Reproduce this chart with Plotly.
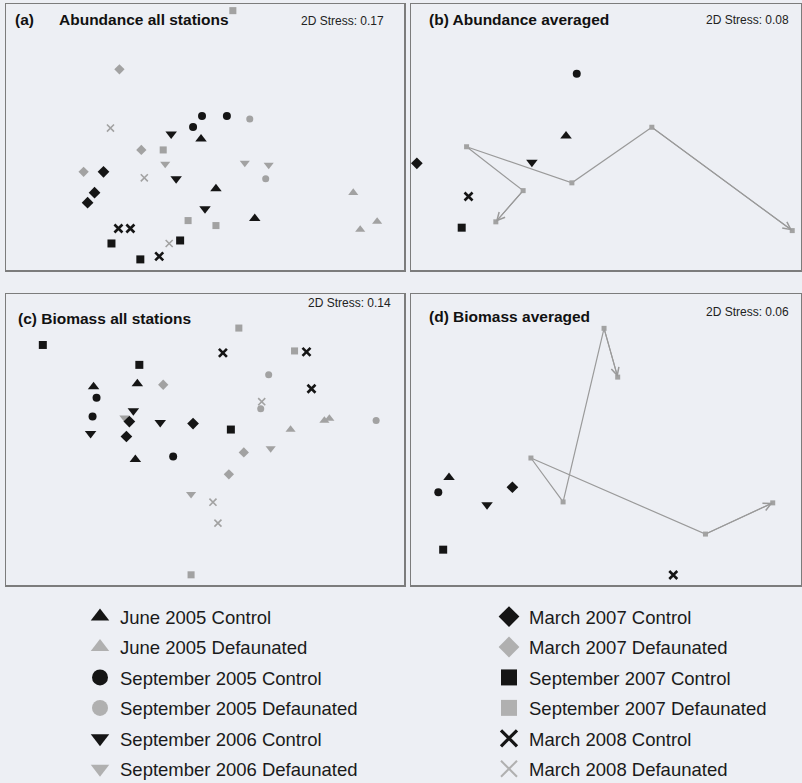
import plotly.graph_objects as go

W, H = 802, 783

# ---- groups -------------------------------------------------------------
group_codes = ["J05C", "J05D", "S05C", "S05D", "S06C", "S06D",
               "M07C", "M07D", "S07C", "S07D", "M08C", "M08D"]
group_names = ["June 2005 Control", "June 2005 Defaunated",
               "September 2005 Control", "September 2005 Defaunated",
               "September 2006 Control", "September 2006 Defaunated",
               "March 2007 Control", "March 2007 Defaunated",
               "September 2007 Control", "September 2007 Defaunated",
               "March 2008 Control", "March 2008 Defaunated"]

# ---- (a) abundance, all stations (nMDS coordinates) --------------------
abund_all_group = ["J05C", "J05C", "J05C", "J05D", "J05D", "J05D",
                   "S05C", "S05C", "S05C", "S05D", "S05D",
                   "S06C", "S06C", "S06C", "S06D", "S06D", "S06D",
                   "M07C", "M07C", "M07C", "M07D", "M07D", "M07D",
                   "S07C", "S07C", "S07C", "S07D", "S07D", "S07D", "S07D",
                   "M08C", "M08C", "M08C", "M08D", "M08D", "M08D"]
abund_all_x = [-0.04, 0.11, 0.50, 1.49, 1.56, 1.73,
               -0.03, 0.22, -0.12, 0.45, 0.61,
               -0.34, -0.29, 0.00, -0.40, 0.40, 0.64,
               -1.02, -1.11, -1.18, -0.86, -0.64, -1.22,
               -0.94, -0.25, -0.65, 0.28, -0.42, -0.17, 0.11,
               -0.87, -0.75, -0.46, -0.95, -0.61, -0.36]
abund_all_y = [-0.02, -0.52, -0.82, -0.56, -0.93, -0.85,
               0.21, 0.21, 0.10, 0.18, -0.42,
               0.03, -0.42, -0.72, -0.27, -0.26, -0.28,
               -0.35, -0.56, -0.66, 0.68, -0.13, -0.35,
               -1.07, -1.04, -1.23, 1.27, -0.13, -0.84, -0.89,
               -0.92, -0.92, -1.20, 0.09, -0.41, -1.07]

# ---- (b) abundance, averaged (one point per group, order = group_codes) --
abund_avg_x = [-0.41, 1.91, -0.30, 0.47, -0.76, -0.35,
               -1.94, -1.43, -1.48, -0.85, -1.41, -1.13]
abund_avg_y = [0.01, -0.96, 0.65, 0.10, -0.26, -0.47,
               -0.27, -0.10, -0.93, -0.55, -0.61, -0.87]

# ---- (c) biomass, all stations ------------------------------------------
bio_all_group = ["J05C", "J05C", "J05C", "J05D", "J05D", "J05D",
                 "S05C", "S05C", "S05C", "S05D", "S05D", "S05D",
                 "S06C", "S06C", "S06C", "S06D", "S06D", "S06D",
                 "M07C", "M07C", "M07C", "M07D", "M07D", "M07D",
                 "S07C", "S07C", "S07C", "S07D", "S07D", "S07D",
                 "M08C", "M08C", "M08C", "M08D", "M08D", "M08D"]
bio_all_x = [-0.68, -1.12, -0.70, 0.86, 1.20, 1.25,
             -1.09, -1.13, -0.32, 0.64, 0.56, 1.72,
             -0.72, -0.45, -1.15, -0.81, 0.66, -0.14,
             -0.76, -0.12, -0.79, -0.42, 0.39, 0.24,
             -1.63, -0.66, 0.26, 0.34, 0.90, -0.14,
             0.18, 1.02, 1.07, 0.57, 0.08, 0.13]
bio_all_y = [0.56, 0.53, -0.20, 0.10, 0.19, 0.21,
             0.42, 0.23, -0.17, 0.65, 0.31, 0.19,
             0.29, 0.17, 0.06, 0.22, -0.09, -0.55,
             0.18, 0.16, 0.03, 0.55, -0.13, -0.35,
             0.95, 0.75, 0.10, 1.12, 0.89, -1.36,
             0.87, 0.88, 0.51, 0.38, -0.63, -0.84]

# ---- (d) biomass, averaged ----------------------------------------------
bio_avg_x = [-1.61, 1.71, -1.72, 1.02, -1.22, -0.77,
             -0.96, -0.44, -1.67, -0.02, 0.69, 0.12]
bio_avg_y = [-0.39, -0.65, -0.54, -0.97, -0.67, -0.19,
             -0.49, -0.64, -1.13, 1.14, -1.39, 0.64]

# trajectory of the defaunated plots through time
path_order = ["J05D", "S05D", "S06D", "M07D", "S07D", "M08D"]

stress = ["0.17", "0.08", "0.14", "0.06"]
titles = ["Abundance all stations", "Abundance averaged",
          "Biomass all stations", "Biomass averaged"]
letters = ["(a)", "(b)", "(c)", "(d)"]

# ---- styling ------------------------------------------------------------
BG = "#edeff4"
BLACK = "#151515"
GREY = "#a2a2a2"
PATH = "#9a9a9a"
FONT = "Liberation Sans, Arial, Helvetica, sans-serif"

symbols = {"S05": "circle", "S06": "triangle-down",
           "M07": "diamond", "S07": "square", "M08": "x-thin-open"}


def sym(code):
    if code.startswith("J"):
        return "triangle-up"
    return symbols[code[:3]]


def style(code, legend=False):
    ctrl = code.endswith("C")
    s = sym(code)
    col = BLACK if ctrl else GREY
    base = {"triangle-up": 10, "triangle-down": 10, "circle": 8,
            "diamond": 9, "square": 8, "x-thin-open": 8}[s]
    size = base * (1.0 if ctrl else 0.88)
    lw = 0
    if s == "x-thin-open":
        lw = 2.6 if ctrl else 1.6
    if legend:
        size = 17
        if not ctrl:
            col = "#b0b0b0"
        if s == "x-thin-open":
            lw = 3.2 if ctrl else 2.0
    return dict(symbol=s, color=col, size=size,
                line=dict(width=lw, color=col))


# panel geometry in pixels: (x0, x1, y0, y1)
panels = [(6, 404, 4, 270), (411, 801, 4, 270),
          (6, 404, 294, 585), (411, 801, 294, 585)]

fig = go.Figure()

axis_names = ["", "2", "3", "4"]


def add_points(k, xs, ys, codes):
    ax = axis_names[k]
    order = [c for c in group_codes if c.endswith("D")] + \
            [c for c in group_codes if c.endswith("C")]
    for c in order:
        px = [x for x, g in zip(xs, codes) if g == c]
        py = [y for y, g in zip(ys, codes) if g == c]
        if not px:
            continue
        fig.add_trace(go.Scatter(x=px, y=py, mode="markers",
                                 marker=style(c), showlegend=False,
                                 hoverinfo="skip",
                                 xaxis="x" + ax, yaxis="y" + ax))


add_points(0, abund_all_x, abund_all_y, abund_all_group)
add_points(2, bio_all_x, bio_all_y, bio_all_group)


def add_avg(k, xs, ys):
    ax = axis_names[k]
    idx = [group_codes.index(c) for c in path_order]
    px = [xs[i] for i in idx]
    py = [ys[i] for i in idx]
    fig.add_trace(go.Scatter(x=px, y=py, mode="lines+markers",
                             line=dict(color=PATH, width=1.2),
                             marker=dict(symbol="square", size=5, color=GREY),
                             showlegend=False, hoverinfo="skip",
                             xaxis="x" + ax, yaxis="y" + ax))
    for (tx, ty, fx, fy) in [(px[0], py[0], px[1], py[1]),
                             (px[-1], py[-1], px[-2], py[-2])]:
        fig.add_annotation(x=tx, y=ty, ax=fx, ay=fy,
                           xref="x" + ax, yref="y" + ax,
                           axref="x" + ax, ayref="y" + ax,
                           text="", showarrow=True, arrowhead=5,
                           arrowsize=1.4, arrowwidth=1.1,
                           arrowcolor=PATH, standoff=0)
    for i, c in enumerate(group_codes):
        if c.endswith("C"):
            fig.add_trace(go.Scatter(x=[xs[i]], y=[ys[i]], mode="markers",
                                     marker=style(c), showlegend=False,
                                     hoverinfo="skip",
                                     xaxis="x" + ax, yaxis="y" + ax))


add_avg(1, abund_avg_x, abund_avg_y)
add_avg(3, bio_avg_x, bio_avg_y)

# legend entries (two columns)
for c, n in zip(group_codes, group_names):
    left = c[:3] in ("J05", "S05", "S06")
    fig.add_trace(go.Scatter(x=[None], y=[None], mode="markers", name=n,
                             marker=style(c, legend=True), legendgroup=n,
                             legend="legend" if left else "legend2",
                             hoverinfo="skip", xaxis="x", yaxis="y"))

layout = dict(width=W, height=H,
              margin=dict(l=0, r=0, t=0, b=0, autoexpand=False),
              paper_bgcolor=BG, plot_bgcolor=BG,
              font=dict(family=FONT, color="#1a1a1a"))

for k, (x0, x1, y0, y1) in enumerate(panels):
    wpx = x1 - x0
    hpx = y1 - y0
    s = wpx / 4.0
    hy = hpx / 2.0 / s
    common = dict(showline=True, mirror=True, linecolor="#7c7c7c",
                  linewidth=1.5, showgrid=False, zeroline=False,
                  showticklabels=False, ticks="", fixedrange=True)
    layout["xaxis" + axis_names[k]] = dict(
        domain=[x0 / W, x1 / W], range=[-2, 2],
        anchor="y" + axis_names[k], **common)
    layout["yaxis" + axis_names[k]] = dict(
        domain=[1 - y1 / H, 1 - y0 / H], range=[-hy, hy],
        anchor="x" + axis_names[k], **common)

leg_common = dict(xanchor="left", yanchor="top", bgcolor="rgba(0,0,0,0)",
                  font=dict(family=FONT, size=18.5, color="#1a1a1a"),
                  traceorder="grouped", tracegroupgap=3.4,
                  itemsizing="trace", itemclick=False, itemdoubleclick=False)
layout["legend"] = dict(x=80 / W, y=1 - 598 / H, **leg_common)
layout["legend2"] = dict(x=489 / W, y=1 - 598 / H, **leg_common)

fig.update_layout(**layout)

# panel titles and stress values
title_pos = [(13, 57, 20), (427, None, 20), (16, None, 318), (427, None, 317)]
stress_pos = [(386, 21), (791, 20), (393, 303), (791, 312)]
for k in range(4):
    lx, tx, ty = title_pos[k]
    if tx is None:
        fig.add_annotation(x=lx / W, y=1 - ty / H, xref="paper", yref="paper",
                           xanchor="left", yanchor="middle", showarrow=False,
                           text="<b>%s %s</b>" % (letters[k], titles[k]),
                           font=dict(family=FONT, size=15.5, color="#111111"))
    else:
        fig.add_annotation(x=lx / W, y=1 - ty / H, xref="paper", yref="paper",
                           xanchor="left", yanchor="middle", showarrow=False,
                           text="<b>%s</b>" % letters[k],
                           font=dict(family=FONT, size=15.5, color="#111111"))
        fig.add_annotation(x=tx / W, y=1 - ty / H, xref="paper", yref="paper",
                           xanchor="left", yanchor="middle", showarrow=False,
                           text="<b>%s</b>" % titles[k],
                           font=dict(family=FONT, size=15.5, color="#111111"))
    sx, sy = stress_pos[k]
    fig.add_annotation(x=sx / W, y=1 - sy / H, xref="paper", yref="paper",
                       xanchor="right", yanchor="middle", showarrow=False,
                       text="2D Stress: %s" % stress[k],
                       font=dict(family=FONT, size=12, color="#222222"))

page_js = ("document.body.style.margin='0';"
           "document.body.style.overflow='hidden';"
           "document.body.style.background='%s';" % BG)
fig.write_html("out.html", post_script=page_js,
               config={"displayModeBar": False, "staticPlot": True})
